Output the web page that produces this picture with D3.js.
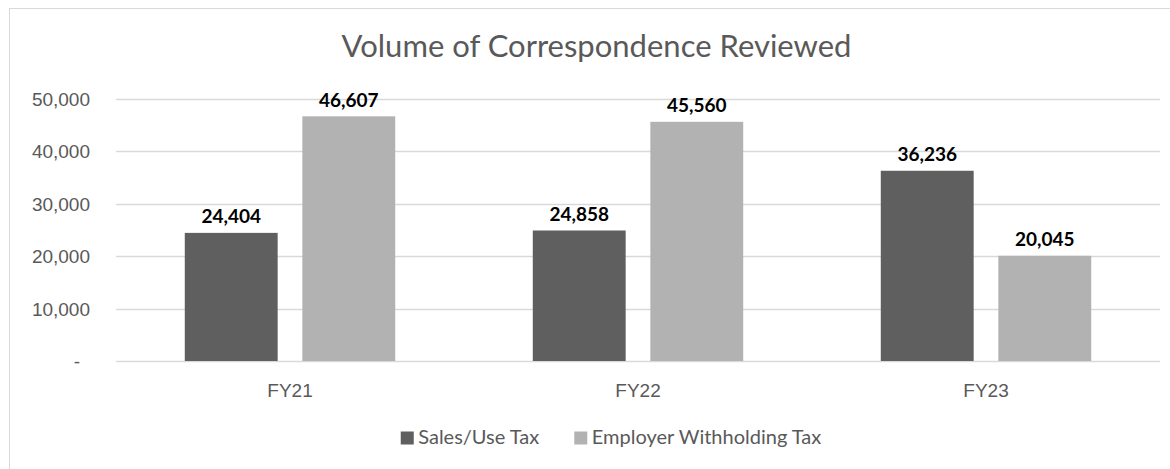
<!DOCTYPE html>
<html>
<head>
<meta charset="utf-8">
<script src="https://cdn.jsdelivr.net/npm/d3@7"></script>
<style>
  body { margin: 0; background: #fff; }
  svg { display: block; font-family: Lato, "Open Sans", sans-serif; }
</style>
</head>
<body>
<div id="chart"></div>
<script>
"use strict";
// data
const categories = ["FY21", "FY22", "FY23"];
const seriesNames = ["Sales/Use Tax", "Employer Withholding Tax"];
const salesUseTax = [24404, 24858, 36236];
const employerWithholding = [46607, 45560, 20045];
const yTicks = [0, 10000, 20000, 30000, 40000, 50000];
const seriesColors = ["#5f5f5f", "#b2b2b2"];

const WIDTH = 1170, HEIGHT = 469;
const plot = { left: 116, right: 1160, top: 98.5, bottom: 361 };

let rows = categories.map(function (c, i) {
	return { cat: c, values: [salesUseTax[i], employerWithholding[i]] };
});

let svg = d3.select("#chart").append("svg")
	.attr("width", WIDTH)
	.attr("height", HEIGHT);

// chart border
svg.append("rect")
	.attr("x", 9.5).attr("y", 8.5)
	.attr("width", WIDTH + 10).attr("height", HEIGHT + 10)
	.style("fill", "#fff")
	.style("stroke", "#d9d9d9")
	.style("stroke-width", "1px");

let x0 = d3.scaleBand().domain(categories).range([plot.left, plot.right]).padding(0);
let x1 = d3.scaleBand().domain(d3.range(seriesNames.length))
	.range([0, x0.bandwidth()])
	.paddingInner(0.21)
	.paddingOuter(0.585);
let y = d3.scaleLinear().domain([0, 50000]).range([plot.bottom, plot.top]);

// gridlines
svg.append("g")
	.selectAll("line")
	.data(yTicks)
	.enter().append("line")
	.attr("x1", plot.left).attr("x2", plot.right)
	.attr("y1", d => Math.round(y(d)) + 0.5)
	.attr("y2", d => Math.round(y(d)) + 0.5)
	.style("stroke", "#d9d9d9")
	.style("stroke-width", "1.5px");

// y axis labels
let yAxis = d3.axisLeft(y)
	.tickValues(yTicks)
	.tickSize(0)
	.tickPadding(0)
	.tickFormat(d => d === 0 ? "-" : d3.format(",")(d));
let yg = svg.append("g").attr("transform", "translate(90,0)").call(yAxis);
yg.select(".domain").remove();
yg.selectAll("text")
	.style("font-size", "19px")
	.style("fill", "#595959")
	.attr("dy", "0.35em")
	.attr("dx", d => d === 0 ? -10 : 0);

// x axis labels
let xAxis = d3.axisBottom(x0).tickSize(0).tickPadding(0);
let xg = svg.append("g").attr("transform", "translate(0,397)").call(xAxis);
xg.select(".domain").remove();
xg.selectAll("text")
	.attr("dy", 0)
	.attr("y", 0)
	.style("font-size", "19px")
	.style("fill", "#595959");

// bars
let groups = svg.append("g").selectAll("g")
	.data(rows)
	.enter().append("g")
	.attr("transform", d => "translate(" + x0(d.cat) + ",0)");

groups.selectAll("rect")
	.data(d => d.values)
	.enter().append("rect")
	.attr("x", (d, i) => x1(i))
	.attr("width", x1.bandwidth())
	.attr("y", d => y(d))
	.attr("height", d => y(0) - y(d))
	.style("fill", (d, i) => seriesColors[i]);

groups.selectAll("text")
	.data(d => d.values)
	.enter().append("text")
	.attr("x", (d, i) => x1(i) + x1.bandwidth() / 2)
	.attr("y", d => y(d) - 9.5)
	.attr("text-anchor", "middle")
	.style("font-size", "19px")
	.style("font-weight", "bold")
	.style("fill", "#000")
	.text(d => d3.format(",")(d));

// title
svg.append("text")
	.attr("x", 596.5)
	.attr("y", 57)
	.attr("text-anchor", "middle")
	.style("font-size", "31px")
	.style("fill", "#595959")
	.text("Volume of Correspondence Reviewed");

// legend
let legend = svg.append("g");
let items = legend.selectAll("g")
	.data(seriesNames)
	.enter().append("g");
items.append("rect")
	.attr("width", 13).attr("height", 13)
	.attr("y", 431.5)
	.style("fill", (d, i) => seriesColors[i]);
items.append("text")
	.attr("x", 17.5)
	.attr("y", 444)
	.style("font-size", "20px")
	.style("fill", "#595959")
	.text(d => d);

let cursor = 0;
items.each(function () {
	let g = d3.select(this);
	g.attr("transform", "translate(" + cursor + ",0)");
	cursor += 17.5 + g.select("text").node().getComputedTextLength() + 35;
});
let legendWidth = cursor - 35;
legend.attr("transform", "translate(" + (611 - legendWidth / 2) + ",0)");
</script>
</body>
</html>
